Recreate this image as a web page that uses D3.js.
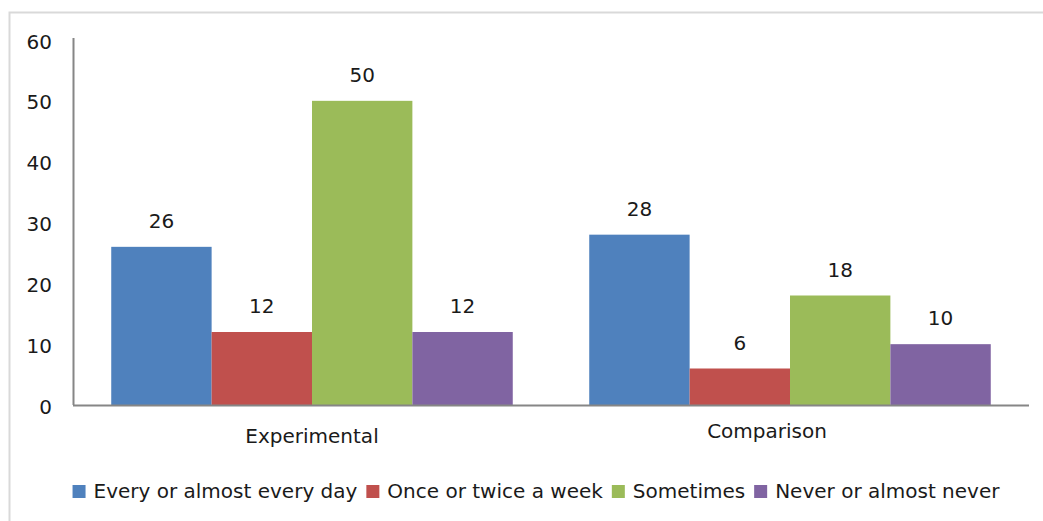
<!DOCTYPE html>
<html>
<head>
<meta charset="utf-8">
<script src="https://cdn.jsdelivr.net/npm/d3@7/dist/d3.min.js"></script>
<style>
  html, body { margin: 0; padding: 0; background: #fff; }
  svg { display: block; }
  text { font-family: "DejaVu Sans", Verdana, sans-serif; fill: #1a1a1a; }
</style>
</head>
<body>
<svg id="chart" width="1043" height="521"></svg>
<script>
// ---- data ----
const categories = ["Experimental", "Comparison"];
const seriesNames = ["Every or almost every day", "Once or twice a week", "Sometimes", "Never or almost never"];
const everyDay = [26, 28];
const onceTwiceWeek = [12, 6];
const sometimes = [50, 18];
const neverAlmostNever = [12, 10];
const yTicks = [0, 10, 20, 30, 40, 50, 60];
const colors = ["#4F81BD", "#C0504D", "#9BBB59", "#8064A2"];

const seriesValues = [everyDay, onceTwiceWeek, sometimes, neverAlmostNever];

const svg = d3.select("#chart");
const W = 1043, H = 521;
const fontSize = 20;

// outer chart border
svg.append("rect")
  .attr("x", 9.5).attr("y", 12.5)
  .attr("width", W + 20).attr("height", H + 20)
  .attr("fill", "#fff").attr("stroke", "#d9d9d9").attr("stroke-width", 2);

const plot = { left: 73, right: 1029, top: 40, bottom: 405 };

const x0 = d3.scaleBand()
  .domain(categories)
  .range([plot.left, plot.right])
  .paddingInner(0.16)
  .paddingOuter(0.08);

const x1 = d3.scaleBand()
  .domain(d3.range(seriesNames.length))
  .range([0, x0.bandwidth()])
  .padding(0);

const y = d3.scaleLinear().domain([0, 60]).range([plot.bottom, plot.top]);

// bars
const groups = svg.append("g").selectAll("g")
  .data(categories)
  .join("g")
  .attr("transform", d => `translate(${x0(d)},0)`);

groups.selectAll("rect")
  .data((c, ci) => seriesValues.map((vals, si) => ({ si, v: vals[ci] })))
  .join("rect")
  .attr("x", d => x1(d.si))
  .attr("y", d => y(d.v))
  .attr("width", x1.bandwidth())
  .attr("height", d => y(0) - y(d.v))
  .attr("fill", d => colors[d.si]);

// value labels
groups.selectAll("text.val")
  .data((c, ci) => seriesValues.map((vals, si) => ({ si, v: vals[ci] })))
  .join("text")
  .attr("class", "val")
  .attr("x", d => x1(d.si) + x1.bandwidth() / 2)
  .attr("y", d => y(d.v) - 19)
  .attr("text-anchor", "middle")
  .style("font-size", fontSize + "px")
  .text(d => d.v);

// y axis
const yAxis = d3.axisLeft(y).tickValues(yTicks).tickSize(0).tickPadding(21);
const gy = svg.append("g").attr("transform", `translate(${plot.left},0)`).call(yAxis);
gy.select(".domain").attr("stroke", "#868686").attr("stroke-width", 2)
  .attr("d", `M0.5,${plot.top - 2}V${plot.bottom}`);
gy.selectAll("text").style("font-size", fontSize + "px")
  .attr("font-family", null).attr("fill", "#1a1a1a").attr("dy", "0.4em");

// x axis
const xAxis = d3.axisBottom(x0).tickSize(0).tickPadding(0);
const gx = svg.append("g").attr("transform", `translate(0,${plot.bottom})`).call(xAxis);
gx.select(".domain").attr("stroke", "#868686").attr("stroke-width", 2)
  .attr("d", `M${plot.left},0.5H${plot.right}`);
const catOffsets = [[0, 38], [-23, 33]];
gx.selectAll(".tick text")
  .style("font-size", fontSize + "px")
  .attr("font-family", null).attr("fill", "#1a1a1a")
  .attr("dy", null)
  .attr("x", (d, i) => catOffsets[i][0])
  .attr("y", (d, i) => catOffsets[i][1]);

// legend
const legend = svg.append("g");
const items = legend.selectAll("g").data(seriesNames).join("g");
items.append("rect")
  .attr("width", 13).attr("height", 13)
  .attr("y", -13)
  .attr("fill", (d, i) => colors[i]);
items.append("text")
  .attr("x", 21)
  .style("font-size", fontSize + "px")
  .text(d => d);
let cx = 0;
items.each(function () {
  const g = d3.select(this);
  g.attr("transform", `translate(${cx},498)`);
  const w = g.select("text").node().getComputedTextLength();
  cx += 21 + w + 9;
});
const totalW = cx - 9;
legend.attr("transform", `translate(${536 - totalW / 2},0)`);
</script>
</body>
</html>
